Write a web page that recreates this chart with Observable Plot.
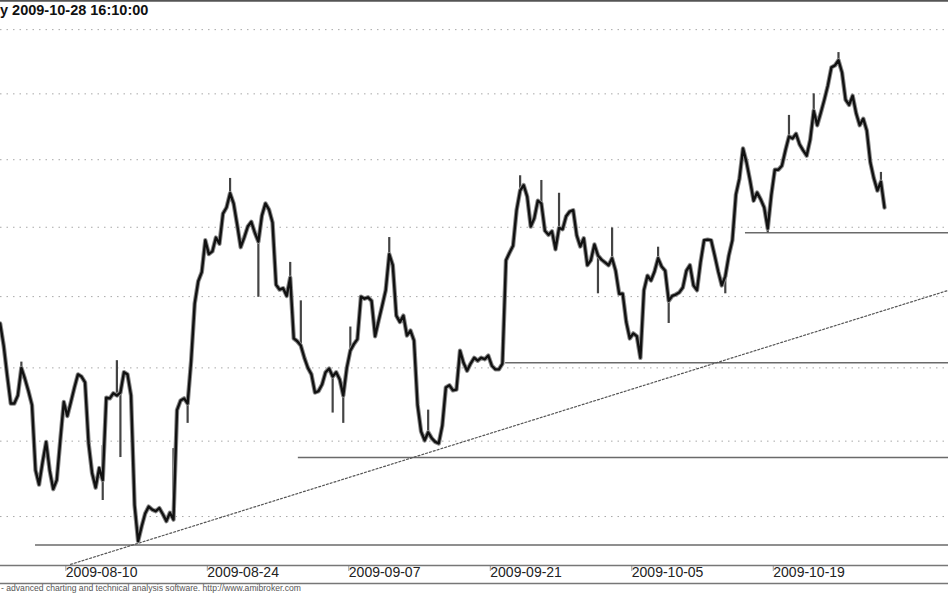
<!DOCTYPE html>
<html><head><meta charset="utf-8">
<script src="https://cdn.jsdelivr.net/npm/d3@7"></script>
<script src="https://cdn.jsdelivr.net/npm/@observablehq/plot@0.6"></script>
<style>html,body{margin:0;padding:0;background:#fff;overflow:hidden} svg{display:block}</style>
</head><body><div id="chart"></div>
<script>
// quarter-day bar closes, bar index 0..250
const closes = [
36.62,36.31,35.89,35.51,35.51,35.62,36.00,35.85,35.68,35.49,
34.61,34.42,34.72,34.99,34.61,34.36,34.48,35.01,35.53,35.34,
35.53,35.73,35.91,35.88,35.80,34.97,34.57,34.38,34.64,34.48,
35.59,35.58,35.65,35.62,35.66,35.94,35.91,35.62,34.15,33.68,
33.87,34.04,34.13,34.09,34.07,34.11,34.03,33.94,34.05,33.96,
35.42,35.55,35.58,35.51,36.10,36.90,37.22,37.35,37.81,37.61,
37.65,37.85,37.76,38.20,38.29,38.50,38.35,38.04,37.71,37.85,
38.01,38.08,37.92,37.79,38.17,38.35,38.26,38.07,37.17,37.10,
37.12,37.01,37.27,36.41,36.37,36.31,36.14,36.00,35.91,35.66,
35.68,35.77,35.94,35.99,35.88,35.94,35.84,35.62,36.00,36.24,
36.33,36.40,37.00,36.97,36.99,36.94,36.44,36.66,36.87,37.09,
37.61,37.45,36.73,36.64,36.73,36.45,36.52,36.38,35.49,35.13,
35.01,35.12,35.04,34.99,34.97,35.21,35.73,35.76,35.69,35.70,
36.24,36.07,35.96,36.06,36.14,36.10,36.14,36.12,36.17,36.03,
35.98,35.98,36.06,37.52,37.63,37.73,38.25,38.54,38.62,38.45,
38.01,38.13,38.39,38.35,37.95,37.89,37.94,37.68,37.99,37.97,
38.16,38.23,38.25,37.88,37.72,37.84,37.45,37.52,37.75,37.59,
37.53,37.49,37.45,37.55,37.37,37.04,37.04,36.64,36.41,36.48,
36.44,36.14,37.09,37.30,37.23,37.36,37.55,37.43,37.37,36.94,
37.01,37.03,37.06,37.13,37.37,37.45,37.16,37.09,37.49,37.81,
37.82,37.81,37.59,37.36,37.16,37.29,37.59,37.81,38.48,38.72,
39.17,38.96,38.69,38.39,38.51,38.41,38.29,37.98,38.47,38.85,
38.85,38.91,39.14,39.35,39.32,39.39,39.23,39.14,39.06,39.30,
39.74,39.52,39.71,39.91,40.13,40.41,40.44,40.52,40.33,39.91,
39.83,39.97,39.70,39.52,39.62,39.44,38.96,38.72,38.54,38.67,
38.29
];
// intraday spikes (high/low wicks)
const wickBars  = [6,29,33,34,49,53,65,73,82,85,94,97,99,110,121,147,153,158,169,173,186,189,205,217,223,230,237,249];
const wickLows  = [35.95,34.21,35.60,34.78,33.95,35.24,38.40,36.99,37.10,36.30,35.38,35.24,36.20,37.50,35.10,38.50,38.30,37.95,37.04,37.50,37.50,36.62,37.04,37.92,39.30,39.70,40.45,38.60];
const wickHighs = [36.08,34.94,36.10,35.66,34.90,35.55,38.72,37.80,37.49,36.94,35.90,35.65,36.57,37.85,35.42,38.76,38.69,38.50,37.60,37.99,37.71,37.00,37.30,38.00,39.67,40.00,40.64,38.81];

const gridPrices = [34,35,36,37,38,39,40,41];
const tickBars   = [18,58,98,138,178,218];
const tickLabels = ["2009-08-10","2009-08-24","2009-09-07","2009-09-21","2009-10-05","2009-10-19"];

const levelPrices    = [33.63,34.78,36.07,37.92];
const levelStartBars = [10,84.3,142.9,210.7];
const trendBars   = [19.9,268.1];
const trendPrices = [33.38,37.09];

const titleText  = "y 2009-10-28 16:10:00";
const footerText = "- advanced charting and technical analysis software. http://www.amibroker.com";

const xDomain = [0.1,268.1];
const yDomain = [33.366,41.43];

const bars   = closes.map((c,i)=>({bar:i, close:c}));
const wicks  = wickBars.map((b,i)=>({bar:b, low:wickLows[i], high:wickHighs[i]}));
const levels = levelPrices.map((p,i)=>({price:p, from:levelStartBars[i]}));
const trend  = trendBars.map((b,i)=>({bar:b, price:trendPrices[i]}));

const W=948,H=593;
const FONT="'Liberation Sans', Arial, sans-serif";
const chart = Plot.plot({
  width:W, height:H, marginTop:2, marginBottom:28, marginLeft:0, marginRight:0,
  style:{fontFamily:FONT, background:"#fff", color:"#222"},
  x:{domain:xDomain},
  y:{type:"log", domain:yDomain, axis:null},
  marks:[
    Plot.ruleY(gridPrices,{stroke:"#a8a8a8", strokeDasharray:"1.5,5", strokeWidth:1}),
    Plot.ruleY(levels,{y:"price", x1:"from", x2:xDomain[1], stroke:"#6a6a6a", strokeWidth:1.5}),
    Plot.line(trend,{x:"bar", y:"price", stroke:"#555", strokeDasharray:"2,2", strokeWidth:1.2, clip:true}),
    Plot.ruleX(wicks,{x:"bar", y1:"low", y2:"high", stroke:"#444", strokeWidth:2.2}),
    Plot.line(bars,{x:"bar", y:"close", stroke:"#8c8c8c", strokeWidth:4.4, clip:true}),
    Plot.line(bars,{x:"bar", y:"close", stroke:"#111", strokeWidth:2.4, clip:true}),
    Plot.axisX(tickBars,{tickFormat:d=>tickLabels[tickBars.indexOf(d)], textAnchor:"start", dx:2,
      tickSize:6, tickPadding:-4, fontSize:14, fill:"#222", stroke:"#999"})
  ]
});
document.getElementById("chart").appendChild(chart);

const svg = d3.select(chart);
const addLine=(y,c,w)=>svg.append("line").attr("x1",0).attr("x2",W).attr("y1",y).attr("y2",y)
  .attr("stroke",c).attr("stroke-width",w);
addLine(0.8,"#555",2);
addLine(565.5,"#777",1.5);
addLine(583.5,"#777",1.5);
svg.append("text").attr("x",0).attr("y",14.5).attr("text-anchor","start").text(titleText)
  .attr("font-size",14.5).attr("font-weight","bold").attr("fill","#111")
  .attr("font-family",FONT);
svg.append("text").attr("x",1).attr("y",590.5).attr("text-anchor","start").text(footerText)
  .attr("font-size",8.6).attr("fill","#555")
  .attr("font-family",FONT);
</script></body></html>
